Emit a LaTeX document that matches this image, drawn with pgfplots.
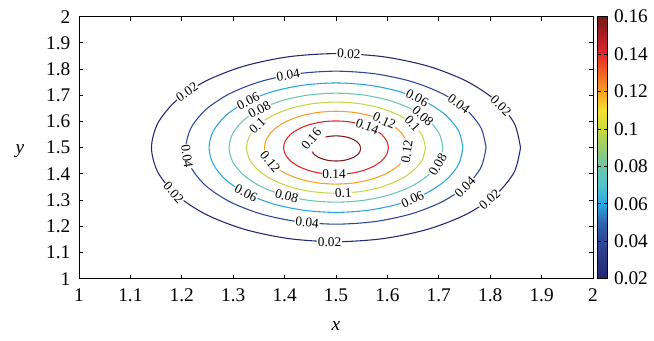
\documentclass[border=0pt]{standalone}
\usepackage{fontspec}
\setmainfont{Liberation Serif}
\usepackage{pgfplots}
\pgfplotsset{compat=1.18}
\definecolor{cA}{RGB}{35,38,112}
\definecolor{cB}{RGB}{45,70,152}
\definecolor{cC}{RGB}{42,166,223}
\definecolor{cD}{RGB}{108,198,172}
\definecolor{cE}{RGB}{197,216,69}
\definecolor{cF}{RGB}{247,160,35}
\definecolor{cG}{RGB}{229,37,39}
\definecolor{cH}{RGB}{125,26,26}
\tikzset{clab/.style={fill=white, inner sep=0.6pt, font=\fontsize{10}{12}\selectfont}}
\begin{document}
\begin{tikzpicture}
\begin{axis}[
  name=main,
  scale only axis,
  width=385.5pt, height=196.5pt,
  xmin=1, xmax=2, ymin=1, ymax=2,
  xtick={1,1.1,1.2,1.3,1.4,1.5,1.6,1.7,1.8,1.9,2},
  ytick={1,1.1,1.2,1.3,1.4,1.5,1.6,1.7,1.8,1.9,2},
  xticklabels={1,1.1,1.2,1.3,1.4,1.5,1.6,1.7,1.8,1.9,2},
  yticklabels={1,1.1,1.2,1.3,1.4,1.5,1.6,1.7,1.8,1.9,2},
  tick align=inside,
  major tick length=3pt,
  axis line style={line width=0.7pt},
  every tick/.style={black, line width=0.6pt},
  ticklabel style={font=\fontsize{14.5}{17}\selectfont},
  xticklabel style={yshift=-4pt},
  yticklabel style={xshift=-3pt},
  every axis x label/.style={at={(rel axis cs:0.5,0)}, anchor=base, yshift=-38.5pt},
  every axis y label/.style={at={(rel axis cs:0,0.5)}, anchor=base, xshift=-44.25pt, yshift=-4pt},
  xlabel={\fontsize{14.5}{17}\selectfont\textit{x}},
  ylabel={\fontsize{14.5}{17}\selectfont\textit{y}},
  point meta min=0.02, point meta max=0.16,
  colormap={paper}{rgb255(2)=(35,38,110) rgb255(4)=(45,72,152) rgb255(5)=(48,100,175)
    rgb255(6)=(40,170,225) rgb255(7)=(80,195,205) rgb255(8)=(110,198,170)
    rgb255(9)=(150,205,110) rgb255(10)=(200,218,60) rgb255(11)=(245,225,45)
    rgb255(12)=(247,160,35) rgb255(13)=(240,100,35) rgb255(14)=(230,40,40)
    rgb255(15)=(170,30,35) rgb255(16)=(120,25,25)},
  colorbar,
  colorbar style={
    at={(parent axis.north east)}, anchor=north west, xshift=-5.3pt,
    width=7.5pt,
    ytick={0.02,0.04,0.06,0.08,0.1,0.12,0.14,0.16},
    yticklabels={0.02,0.04,0.06,0.08,0.1,0.12,0.14,0.16},
    yticklabel style={font=\fontsize{14.5}{17}\selectfont, xshift=1.5pt},
    ytick align=inside, major tick length=2.5pt,
    axis line style={line width=0.6pt},
    scaled y ticks=false,
  },
]
% level 0.02
\addplot[cA, line width=0.8pt, smooth] coordinates {
(1.859,1.5) (1.8468,1.5929) (1.8109,1.6795) (1.7539,1.7539) (1.6795,1.8109) (1.5929,1.8468)
(1.5,1.859) (1.4071,1.8468) (1.3205,1.8109) (1.2461,1.7539) (1.1891,1.6795) (1.1532,1.5929)
(1.141,1.5) (1.1532,1.4071) (1.1891,1.3205) (1.2461,1.2461) (1.3205,1.1891) (1.4071,1.1532)
(1.5,1.141) (1.5929,1.1532) (1.6795,1.1891) (1.7539,1.2461) (1.8109,1.3205) (1.8468,1.4071)
(1.859,1.5)};
% level 0.04
\addplot[cB, line width=0.8pt, smooth] coordinates {
(1.792,1.5) (1.782,1.5756) (1.7529,1.646) (1.7065,1.7065) (1.646,1.7529) (1.5756,1.782)
(1.5,1.792) (1.4244,1.782) (1.354,1.7529) (1.2935,1.7065) (1.2471,1.646) (1.218,1.5756)
(1.208,1.5) (1.218,1.4244) (1.2471,1.354) (1.2935,1.2935) (1.354,1.2471) (1.4244,1.218)
(1.5,1.208) (1.5756,1.218) (1.646,1.2471) (1.7065,1.2935) (1.7529,1.354) (1.782,1.4244)
(1.792,1.5)};
% level 0.06
\addplot[cC, line width=0.8pt, smooth] coordinates {
(1.747,1.5) (1.7386,1.5639) (1.7139,1.6235) (1.6747,1.6747) (1.6235,1.7139) (1.5639,1.7386)
(1.5,1.747) (1.4361,1.7386) (1.3765,1.7139) (1.3253,1.6747) (1.2861,1.6235) (1.2614,1.5639)
(1.253,1.5) (1.2614,1.4361) (1.2861,1.3765) (1.3253,1.3253) (1.3765,1.2861) (1.4361,1.2614)
(1.5,1.253) (1.5639,1.2614) (1.6235,1.2861) (1.6747,1.3253) (1.7139,1.3765) (1.7386,1.4361)
(1.747,1.5)};
% level 0.08
\addplot[cD, line width=0.8pt, smooth] coordinates {
(1.708,1.5) (1.7009,1.5538) (1.6801,1.604) (1.6471,1.6471) (1.604,1.6801) (1.5538,1.7009)
(1.5,1.708) (1.4462,1.7009) (1.396,1.6801) (1.3529,1.6471) (1.3199,1.604) (1.2991,1.5538)
(1.292,1.5) (1.2991,1.4462) (1.3199,1.396) (1.3529,1.3529) (1.396,1.3199) (1.4462,1.2991)
(1.5,1.292) (1.5538,1.2991) (1.604,1.3199) (1.6471,1.3529) (1.6801,1.396) (1.7009,1.4462)
(1.708,1.5)};
% level 0.10
\addplot[cE, line width=0.8pt, smooth] coordinates {
(1.674,1.5) (1.6681,1.545) (1.6507,1.587) (1.623,1.623) (1.587,1.6507) (1.545,1.6681)
(1.5,1.674) (1.455,1.6681) (1.413,1.6507) (1.377,1.623) (1.3493,1.587) (1.3319,1.545)
(1.326,1.5) (1.3319,1.455) (1.3493,1.413) (1.377,1.377) (1.413,1.3493) (1.455,1.3319)
(1.5,1.326) (1.545,1.3319) (1.587,1.3493) (1.623,1.377) (1.6507,1.413) (1.6681,1.455)
(1.674,1.5)};
% level 0.12
\addplot[cF, line width=0.8pt, smooth] coordinates {
(1.639,1.5) (1.6343,1.536) (1.6204,1.5695) (1.5983,1.5983) (1.5695,1.6204) (1.536,1.6343)
(1.5,1.639) (1.464,1.6343) (1.4305,1.6204) (1.4017,1.5983) (1.3796,1.5695) (1.3657,1.536)
(1.361,1.5) (1.3657,1.464) (1.3796,1.4305) (1.4017,1.4017) (1.4305,1.3796) (1.464,1.3657)
(1.5,1.361) (1.536,1.3657) (1.5695,1.3796) (1.5983,1.4017) (1.6204,1.4305) (1.6343,1.464)
(1.639,1.5)};
% level 0.14
\addplot[cG, line width=0.8pt, smooth] coordinates {
(1.602,1.5) (1.5985,1.5264) (1.5883,1.551) (1.5721,1.5721) (1.551,1.5883) (1.5264,1.5985)
(1.5,1.602) (1.4736,1.5985) (1.449,1.5883) (1.4279,1.5721) (1.4117,1.551) (1.4015,1.5264)
(1.398,1.5) (1.4015,1.4736) (1.4117,1.449) (1.4279,1.4279) (1.449,1.4117) (1.4736,1.4015)
(1.5,1.398) (1.5264,1.4015) (1.551,1.4117) (1.5721,1.4279) (1.5883,1.449) (1.5985,1.4736)
(1.602,1.5)};
% level 0.16 (open)
\addplot[cH, line width=0.8pt, smooth] coordinates {
(1.4536,1.4846) (1.4584,1.473) (1.4661,1.4631) (1.476,1.4554) (1.4876,1.4506) (1.5,1.449)
(1.5124,1.4506) (1.524,1.4554) (1.5339,1.4631) (1.5416,1.473) (1.5464,1.4846) (1.548,1.497)
(1.5464,1.5094) (1.5416,1.521) (1.5339,1.5309) (1.524,1.5386) (1.5124,1.5434) (1.5,1.545)
(1.4876,1.5434) (1.4797,1.5405)};
% contour labels
\node[clab, rotate=-2] at (axis cs:1.525,1.858) {0.02};
\node[clab, rotate=35] at (axis cs:1.210,1.712) {0.02};
\node[clab, rotate=-45] at (axis cs:1.821,1.661) {0.02};
\node[clab, rotate=-48] at (axis cs:1.184,1.329) {0.02};
\node[clab, rotate=42] at (axis cs:1.799,1.302) {0.02};
\node[clab, rotate=0] at (axis cs:1.4875,1.141) {0.02};
\node[clab, rotate=10] at (axis cs:1.407,1.777) {0.04};
\node[clab, rotate=-36] at (axis cs:1.739,1.667) {0.04};
\node[clab, rotate=-82] at (axis cs:1.210,1.467) {0.04};
\node[clab, rotate=45] at (axis cs:1.751,1.350) {0.04};
\node[clab, rotate=-6] at (axis cs:1.444,1.214) {0.04};
\node[clab, rotate=26] at (axis cs:1.329,1.678) {0.06};
\node[clab, rotate=-28] at (axis cs:1.658,1.690) {0.06};
\node[clab, rotate=-27] at (axis cs:1.325,1.326) {0.06};
\node[clab, rotate=25] at (axis cs:1.649,1.303) {0.06};
\node[clab, rotate=28] at (axis cs:1.351,1.645) {0.08};
\node[clab, rotate=-42] at (axis cs:1.669,1.621) {0.08};
\node[clab, rotate=-15] at (axis cs:1.404,1.315) {0.08};
\node[clab, rotate=60] at (axis cs:1.698,1.435) {0.08};
\node[clab, rotate=43] at (axis cs:1.347,1.583) {0.1};
\node[clab, rotate=-48] at (axis cs:1.649,1.591) {0.1};
\node[clab, rotate=2] at (axis cs:1.514,1.327) {0.1};
\node[clab, rotate=-25] at (axis cs:1.594,1.602) {0.12};
\node[clab, rotate=82] at (axis cs:1.638,1.4855) {0.12};
\node[clab, rotate=-50] at (axis cs:1.372,1.446) {0.12};
\node[clab, rotate=-21] at (axis cs:1.561,1.582) {0.14};
\node[clab, rotate=0] at (axis cs:1.4964,1.398) {0.14};
\node[clab, fill=none, rotate=50] at (axis cs:1.452,1.533) {0.16};
\end{axis}
\path ([shift={(-59.25pt,-46.5pt)}]main.south west) rectangle ([shift={(45.75pt,12.5pt)}]main.north east);
\end{tikzpicture}
\end{document}
